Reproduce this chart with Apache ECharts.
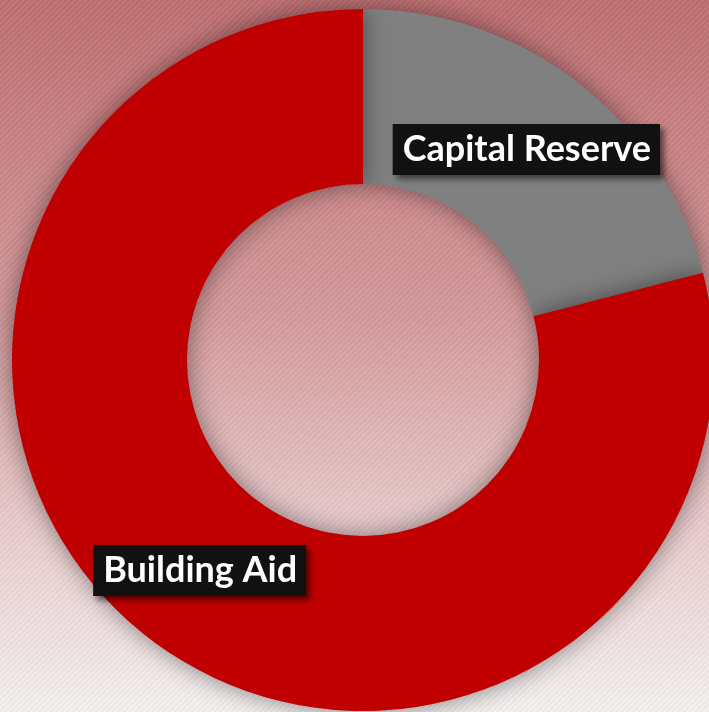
<!DOCTYPE html>
<html>
<head>
<meta charset="utf-8">
<script src="https://cdn.jsdelivr.net/npm/echarts@6/dist/echarts.min.js"></script>
<style>
html,body{margin:0;padding:0;}
#wrap{position:relative;width:709px;height:712px;overflow:hidden;
 background:linear-gradient(to bottom,#bf6f72 0%,#d59a9c 45%,#e9cdce 75%,#f5f0f0 100%);}
#hatch{position:absolute;left:0;top:0;width:100%;height:100%;
 background:repeating-linear-gradient(135deg,rgba(255,255,255,0.05) 0px,rgba(255,255,255,0.05) 2px,rgba(0,0,0,0.03) 2px,rgba(0,0,0,0.03) 4px);}
#chart{position:absolute;left:0;top:0;width:709px;height:712px;}
</style>
</head>
<body>
<div id="wrap"><div id="hatch"></div><div id="chart"></div></div>
<script>
const categories = ['Capital Reserve', 'Building Aid'];
const values = [21, 79];
const colors = ['#808080', '#c00000'];

const chart = echarts.init(document.getElementById('chart'), null, {renderer: 'canvas'});
chart.setOption({
  backgroundColor: 'transparent',
  animation: false,
  series: [{
    type: 'pie',
    center: [363, 360],
    radius: [176, 351],
    startAngle: 90,
    clockwise: true,
    silent: true,
    itemStyle: {
      shadowBlur: 25,
      shadowColor: 'rgba(0,0,0,0.45)'
    },
    label: {
      show: true,
      position: 'inside',
      formatter: '{b}',
      color: '#ffffff',
      fontFamily: 'Lato',
      fontWeight: 'bold',
      fontSize: 36,
      lineHeight: 37,
      backgroundColor: '#111111',
      padding: [7, 9, 7, 10],
      shadowColor: 'rgba(0,0,0,0.55)',
      shadowBlur: 6,
      shadowOffsetX: 4,
      shadowOffsetY: 4
    },
    labelLine: {show: false},
    data: categories.map((c, i) => ({name: c, value: values[i], itemStyle: {color: colors[i]}}))
  }]
});
</script>
</body>
</html>
